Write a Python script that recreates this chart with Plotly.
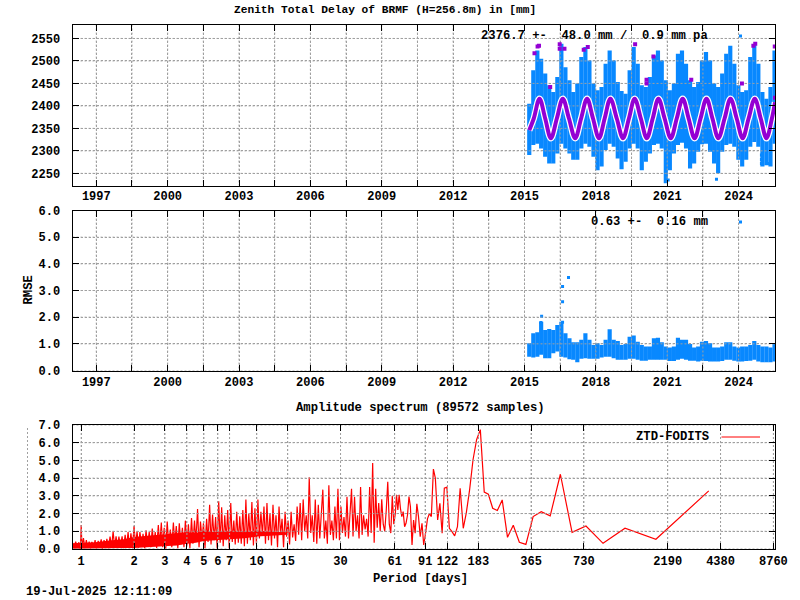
import plotly.graph_objects as go

ztd_year = [2015.20,2015.37,2015.54,2015.70,2015.87,
 2016.04,2016.21,2016.38,2016.55,2016.72,2016.89,
 2017.05,2017.22,2017.39,2017.56,2017.73,2017.90,
 2018.07,2018.24,2018.41,2018.58,2018.75,2018.92,
 2019.08,2019.25,2019.42,2019.59,2019.76,2019.93,
 2020.10,2020.27,2020.44,2020.61,2020.77,2020.94,
 2021.11,2021.28,2021.45,2021.62,2021.79,2021.96,
 2022.13,2022.30,2022.46,2022.63,2022.80,2022.97,
 2023.14,2023.31,2023.48,2023.65,2023.82,2023.99,
 2024.15,2024.32,2024.49,2024.66,2024.83,
 2025.00,2025.17,2025.34,2025.51]
ztd_high = [2405,2479,2523,2505,2472,2446,2431,2464,2538,2486,2457,2431,2450,2509,2531,2501,2450,2435,2442,2494,2523,2501,2453,2433,2427,2479,2531,2494,2446,2442,2464,2512,2523,2501,2457,2435,2450,2516,2523,2494,2457,2442,2453,2501,2520,2501,2450,2442,2472,2516,2534,2494,2446,2431,2435,2509,2537,2494,2431,2416,2442,2523]
ztd_low = [2291,2313,2316,2305,2287,2272,2272,2294,2316,2305,2294,2280,2280,2305,2316,2309,2287,2257,2265,2302,2316,2309,2283,2259,2276,2305,2316,2305,2257,2276,2294,2313,2316,2305,2228,2257,2294,2313,2318,2305,2261,2272,2298,2315,2316,2298,2272,2250,2298,2313,2316,2309,2280,2265,2280,2309,2320,2309,2265,2268,2265,2316]
ztd_out_year = [2024.96,2024.96,2024.96,2025.27,2023.07,2021.04]
ztd_out_val = [2291,2281,2272,2272,2237,2235]

fit_year = [2015.20,2015.39,2015.63,2015.87,2016.11,2016.36,2016.61,2016.87,2017.13,2017.38,2017.63,2017.88,2018.13,2018.37,2018.61,2018.88,2019.14,2019.39,2019.63,2019.89,2020.14,2020.39,2020.63,2020.89,2021.15,2021.40,2021.65,2021.90,2022.15,2022.40,2022.65,2022.90,2023.15,2023.41,2023.66,2023.92,2024.17,2024.42,2024.68,2024.93,2025.17,2025.40,2025.53]
fit_val = [2346,2372,2416,2372,2328,2372,2416,2372,2328,2372,2416,2372,2328,2372,2416,2372,2328,2372,2416,2372,2328,2372,2416,2372,2328,2372,2416,2372,2328,2372,2416,2372,2328,2372,2416,2372,2328,2372,2416,2372,2328,2372,2408]

rej_year = [2015.42,2015.55,2015.61,2016.08,2016.48,2016.48,2016.68,2017.49,2017.66,2019.65,2020.42,2020.13,2020.13,2022.01,2024.14,2024.62,2024.70,2025.52,2025.53]
rej_val = [2517,2532,2534,2442,2527,2537,2527,2525,2531,2537,2510,2458,2450,2458,2450,2534,2538,2532,2418]

rmse_high = [1.02,1.40,1.43,1.83,1.52,1.56,1.52,1.71,1.83,1.40,1.21,1.06,1.06,1.15,1.40,1.15,.96,1.02,.96,1.15,1.55,1.15,1.11,.96,.99,1.27,1.31,1.08,.96,.90,.90,1.21,1.23,1.06,.90,.86,.90,1.23,1.15,1.15,.99,.86,.90,1.08,1.11,1.02,.86,.86,.90,1.06,1.06,.90,.86,.90,.90,.96,1.11,.96,.90,.90,.86,1.02]
rmse_low = [.52,.49,.52,.59,.46,.46,.65,.71,.52,.49,.42,.40,.31,.44,.46,.44,.44,.44,.49,.52,.52,.46,.40,.40,.40,.44,.44,.40,.37,.37,.40,.40,.40,.40,.40,.36,.36,.40,.44,.40,.37,.37,.34,.37,.36,.34,.34,.34,.36,.40,.40,.37,.34,.34,.36,.37,.40,.34,.31,.31,.31,.34]
rmse_out_year = [2016.85,2016.60,2016.60,2015.72,2016.60,2015.69,2025.53]
rmse_out_val = [3.49,3.15,2.58,2.03,1.81,1.80,.52]

spec_period = [
 0.89,0.91,0.93,0.95,0.97,0.99,1.00,1.01,1.03,1.05,1.07,1.09,1.11,1.13,1.15,1.18,1.20,1.22,1.25,1.27,
 1.30,1.32,1.35,1.38,1.40,1.43,1.46,1.49,1.52,1.55,1.58,1.61,1.64,1.67,1.71,1.74,1.78,1.81,1.85,1.88,
 1.92,1.96,2.00,2.04,2.08,2.12,2.16,2.21,2.25,2.30,2.34,2.39,2.44,2.49,2.54,2.59,2.64,2.69,2.75,2.80,
 2.86,2.91,2.97,3.03,3.09,3.15,3.22,3.28,3.35,3.41,3.48,3.55,3.62,3.70,3.77,3.85,3.92,4.00,4.08,4.16,
 4.25,4.33,4.42,4.50,4.60,4.69,4.78,4.88,4.97,5.07,5.18,5.28,5.39,5.49,5.60,5.72,5.83,5.95,6.07,6.19,
 6.31,6.44,6.57,6.70,6.83,6.97,7.11,7.25,7.40,7.54,7.69,7.85,8.00,8.16,8.33,8.50,8.67,8.84,9.01,9.19,
 9.38,9.57,9.76,9.95,10.15,10.35,10.56,10.77,10.99,11.21,11.43,11.66,11.89,12.13,12.37,12.62,12.87,13.13,13.39,13.66,
 13.93,14.21,14.50,14.79,15.08,15.38,15.69,16.00,16.32,16.65,16.98,17.32,17.67,18.02,18.38,18.75,19.13,19.51,19.90,20.30,
 20.70,21.12,21.54,21.97,22.41,22.86,23.32,23.78,24.26,24.74,25.24,25.74,26.26,26.78,27.32,27.87,28.42,28.99,29.57,30.16,
 30.76,31.38,32.01,32.65,33.30,33.97,34.65,35.34,36.05,36.77,37.50,38.25,39.02,39.80,40.59,41.41,42.23,43.08,43.94,44.82,
 45.72,46.63,47.56,48.52,49.49,50.48,51.49,52.52,53.57,54.64,55.73,56.85,57.98,59.14,60.32,61.53,
 62.5,63.6,64.7,65.8,67.0,68.2,69.5,70.8,72.2,73.6,75.0,76.6,78.2,79.8,81.6,83.4,85.3,87.3,89.3,91.5,
 93.8,96.2,98.7,101.4,104,107.2,110.4,113.7,117,121,125,129.4,134,139,144,150,156,163,170.5,178.7,
 187.6,197.5,208.4,220.7,234.5,250,268,289,313,341,375,417,469,536,625,750,938,1251,1876,3752]
spec_amp = [
 .4,.05,.42,.1,.38,.02,1.35,.1,.62,.05,.5,.08,.42,.03,.4,.1,.5,.03,.46,.1,
 .55,.02,.5,.1,.58,.05,.7,.08,1.0,.1,.72,.06,.7,.12,.72,.04,.8,.1,.95,.08,
 .88,.05,1.3,.12,1.0,.08,.95,.15,.85,.04,1.05,.18,.95,.1,1.15,.2,.95,.06,1.35,.2,
 1.5,.1,1.2,.02,1.55,.25,1.1,.1,1.5,.3,1.3,.05,1.45,.25,1.2,.1,1.6,.2,1.4,.05,
 1.75,.3,1.6,.4,2.25,.1,1.55,.5,1.45,.05,1.7,.4,2.5,.25,1.95,.5,1.8,.05,2.7,.35,
 2.35,.15,1.9,.5,2.2,.05,2.6,.4,1.6,.25,2.1,.35,1.85,.3,2.2,.15,2.8,.3,2.0,.5,
 2.65,.2,2.3,.3,2.8,.6,2.1,.75,2.4,.3,2.6,.5,2.0,.2,2.5,.6,1.9,.1,2.4,.8,
 1.7,.1,2.1,.7,1.6,.25,2.1,.65,1.4,.45,2.4,.8,2.6,.5,2.8,1.0,1.9,.6,4.05,.9,
 1.9,.4,2.8,.3,2.5,.6,2.0,3.35,.6,1.6,.3,3.6,.8,1.6,.5,2.4,.6,3.4,.5,2.4,
 .9,1.8,.7,2.95,.6,2.0,3.4,.7,2.95,1.0,1.9,.6,3.5,.8,1.9,1.1,1.7,.7,3.5,.9,
 4.85,.35,3.4,1.2,2.6,1.0,2.8,1.4,1.0,2.2,3.8,1.4,.9,3.0,1.4,2.0,
 3.06,2.2,3.06,2.3,1.83,2.11,1.26,1.45,1.92,2.96,2.4,.23,1.64,.89,2.55,1.83,.70,1.45,.23,.89,
 1.7,2.0,1.83,4.51,4.0,1.64,2.58,.89,3.43,3.49,1.17,.98,.74,1.26,3.43,1.17,2.02,3.34,5.04,6.17,
 6.74,3.21,3.09,2.30,2.17,2.77,.66,1.34,.38,.26,1.83,2.11,1.87,4.22,.94,1.30,.32,1.17,.55,3.28]

# solid part of the noise floor in the spectrum, read as a band
band_period = [0.892,1.0,1.2,1.5,1.75,2.0,2.5,3.0,3.5,4.0,4.5,5.0,6.0,7.0,8.5,10.0,12.0,15.0]
band_high = [.33,.36,.38,.5,.55,.68,.78,.85,.9,.95,.92,1.0,.95,1.02,.95,1.05,.98,.95]
band_low = [.02,.02,.03,.04,.05,.06,.1,.15,.2,.3,.35,.45,.5,.55,.6,.7,.75,.8]

top_ticks = [1997,1998.5,2000,2001.5,2003,2004.5,2006,2007.5,2009,2010.5,2012,2013.5,2015,2016.5,2018,2019.5,2021,2022.5,2024]
top_labels = ["1997","","2000","","2003","","2006","","2009","","2012","","2015","","2018","","2021","","2024"]
ztd_yticks = [2250,2300,2350,2400,2450,2500,2550]
rmse_yticks = [0,1,2,3,4,5,6]
rmse_ylabels = ["0.0","1.0","2.0","3.0","4.0","5.0","6.0"]
amp_yticks = [0,1,2,3,4,5,6,7]
amp_ylabels = ["0.0","1.0","2.0","3.0","4.0","5.0","6.0","7.0"]
period_ticks = [1,2,3,4,5,6,7,10,15,30,61,91,122,183,365,730,2190,4380,8760]

BLUE = "#0888ff"
PURPLE = "#9400d3"
RED = "#ff0000"
GRID = "#a0a0a0"
MONO = dict(family="Liberation Mono", size=12, color="black", weight="bold")
XR = [1996.0, 2025.53]
YR1 = [2223, 2581]
YR2 = [0, 6]
YR3 = [0, 7]
XR3 = [0.892, 8950]

def ydom(top, bottom):
    return [1 - bottom / 600, 1 - top / 600]

def grid_overlay(xt, yt, xr, yr, xa, ya):
    """Grid drawn again above the dense marks, as in the reference."""
    xs, ys = [], []
    for v in xt:
        xs += [v, v, None]
        ys += [yr[1], yr[0], None]
    for v in yt:
        xs += [xr[0], xr[1], None]
        ys += [v, v, None]
    fig.add_trace(go.Scatter(x=xs, y=ys, mode="lines", hoverinfo="skip",
                             line=dict(color=GRID, width=1, dash="2px,2px"), xaxis=xa, yaxis=ya))

fig = go.Figure()
fig.add_trace(go.Bar(x=ztd_year, y=[h - l for h, l in zip(ztd_high, ztd_low)], base=ztd_low,
                     width=0.175, marker=dict(color=BLUE, line_width=0), xaxis="x", yaxis="y"))
fig.add_trace(go.Scatter(x=ztd_out_year, y=ztd_out_val, mode="markers",
                         marker=dict(symbol="square", size=3, color=BLUE, line_width=0), xaxis="x", yaxis="y"))
grid_overlay(top_ticks, ztd_yticks, XR, YR1, "x", "y")
fig.add_trace(go.Scatter(x=fit_year, y=fit_val, mode="lines",
                         line=dict(color="white", width=6.5, shape="spline", smoothing=1.0), xaxis="x", yaxis="y"))
fig.add_trace(go.Scatter(x=fit_year, y=fit_val, mode="lines",
                         line=dict(color=PURPLE, width=4, shape="spline", smoothing=1.0), xaxis="x", yaxis="y"))
fig.add_trace(go.Scatter(x=rej_year, y=rej_val, mode="markers",
                         marker=dict(symbol="square", size=4, color=PURPLE, line_width=0), xaxis="x", yaxis="y"))
fig.add_trace(go.Bar(x=ztd_year, y=[h - l for h, l in zip(rmse_high, rmse_low)], base=rmse_low,
                     width=0.175, marker=dict(color=BLUE, line_width=0), xaxis="x2", yaxis="y2"))
fig.add_trace(go.Scatter(x=rmse_out_year, y=rmse_out_val, mode="markers",
                         marker=dict(symbol="square", size=3, color=BLUE, line_width=0), xaxis="x2", yaxis="y2"))
grid_overlay(top_ticks, rmse_yticks, XR, YR2, "x2", "y2")
fig.add_trace(go.Scatter(x=band_period + band_period[::-1], y=band_high + band_low[::-1], mode="lines",
                         fill="toself", fillcolor=RED, line=dict(width=0, color=RED), xaxis="x3", yaxis="y3"))
fig.add_trace(go.Scatter(x=spec_period, y=spec_amp, mode="lines", name="ZTD-FODITS",
                         line=dict(color=RED, width=1.2), xaxis="x3", yaxis="y3"))
grid_overlay(period_ticks, amp_yticks, XR3, YR3, "x3", "y3")

common_axis = dict(showline=True, linecolor="black", linewidth=1, mirror="allticks", ticks="inside",
                   ticklen=6, tickcolor="black", tickwidth=1, showgrid=True, gridcolor=GRID, griddash="2px,2px",
                   gridwidth=1, zeroline=False, tickfont=MONO, automargin=False, layer="above traces")
xdom = [72.5 / 800, 775 / 800]
fig.update_layout(
    width=800, height=600, margin=dict(l=0, r=0, t=0, b=0), paper_bgcolor="white", plot_bgcolor="white",
    showlegend=False, barmode="overlay",
    xaxis=dict(domain=xdom, range=XR, tickmode="array", tickvals=top_ticks, ticktext=top_labels, anchor="y",
               ticklabelstandoff=-1, **common_axis),
    yaxis=dict(domain=ydom(24.5, 185.5), range=YR1, tickmode="array", tickvals=ztd_yticks,
               ticktext=[str(v) for v in ztd_yticks], anchor="x", ticklabelstandoff=9, **common_axis),
    xaxis2=dict(domain=xdom, range=XR, tickmode="array", tickvals=top_ticks, ticktext=top_labels, anchor="y2", **common_axis),
    yaxis2=dict(domain=ydom(210.5, 370.5), range=YR2, tickmode="array", tickvals=rmse_yticks,
                ticktext=rmse_ylabels, anchor="x2", ticklabelstandoff=9, **common_axis),
    xaxis3=dict(domain=xdom, type="log", range=[-0.0495, 3.9516], tickmode="array", tickvals=period_ticks,
                ticktext=[str(v) for v in period_ticks], anchor="y3", ticklabelstandoff=1, **common_axis),
    yaxis3=dict(domain=ydom(425, 549), range=YR3, tickmode="array", tickvals=amp_yticks,
                ticktext=amp_ylabels, anchor="x3", ticklabelstandoff=9, **common_axis),
)

def label(text, x, y, anchor="center", size=12.2, angle=0):
    fig.add_annotation(text=text.replace(" ", "\u00a0"), x=x / 800, y=1 - y / 600, xref="paper", yref="paper",
                       xanchor=anchor, yanchor="middle", showarrow=False, textangle=angle,
                       font=dict(family="Liberation Mono", size=size, color="black", weight="bold"))

label("Zenith Total Delay of BRMF (H=256.8m) in [mm]", 384.5, 10, size=11.2)
label("Amplitude spectrum (89572 samples)", 420, 407.5)
label("2376.7 +-  48.0 mm /  0.9 mm pa", 710, 35.5, anchor="right")
label("0.63 +-  0.16 mm", 710, 221.5, anchor="right")
label("ZTD-FODITS", 711, 437, anchor="right")
label("RMSE", 28.5, 290, angle=-90)
label("Period [days]", 420, 578.5)
label("19-Jul-2025 12:11:09", 24, 592, anchor="left")

def paper_line(x0, y0, x1, y1, **line):
    fig.add_shape(type="line", xref="paper", yref="paper", x0=x0 / 800, x1=x1 / 800,
                  y0=1 - y0 / 600, y1=1 - y1 / 600, line=line)

paper_line(721.5, 437, 760, 437, color=RED, width=1)
paper_line(27.5, 428, 27.5, 550, color=GRID, width=1, dash="2px,2px")
for py in (36, 222):
    fig.add_shape(type="rect", xref="paper", yref="paper", x0=739 / 800, x1=742 / 800,
                  y0=1 - (py + 1.5) / 600, y1=1 - (py - 1.5) / 600, fillcolor=BLUE, line_width=0)

fig.write_html("out.html", config=dict(displayModeBar=False),
               post_script="document.body.style.margin='0';document.body.style.overflow='hidden';")
